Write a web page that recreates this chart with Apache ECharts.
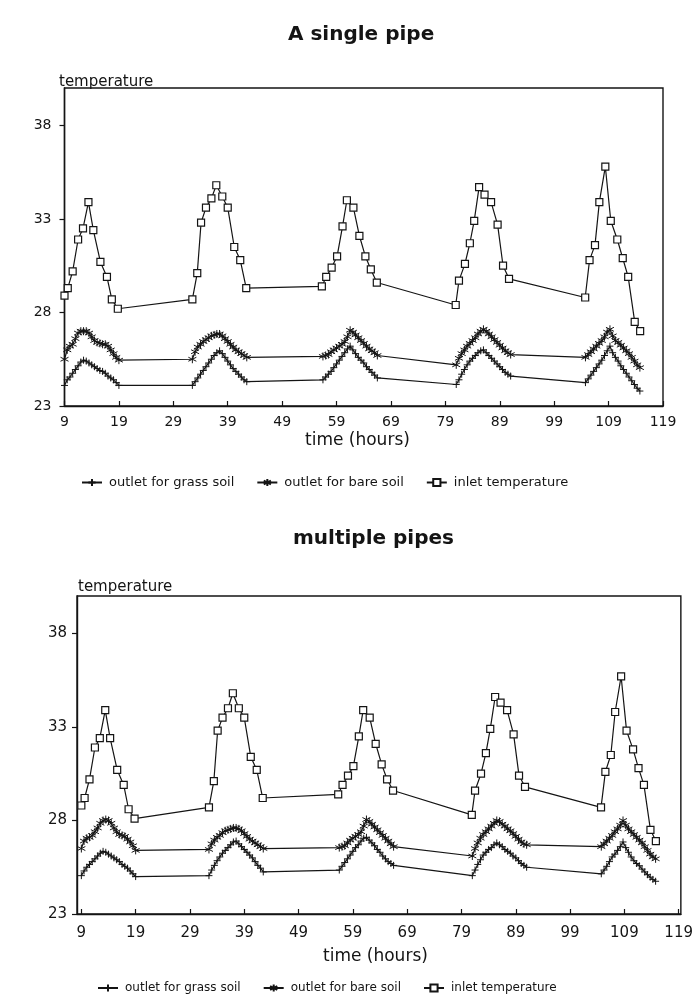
<!DOCTYPE html>
<html><head><meta charset="utf-8">
<script src="https://cdn.jsdelivr.net/npm/echarts@6/dist/echarts.min.js"></script>
<style>html,body{margin:0;padding:0;background:#fff}#c{width:696px;height:1004px}</style>
</head><body><div id="c"></div>
<script>
// ---- data ----
const seriesNames = ['outlet for grass soil', 'outlet for bare soil', 'inlet temperature'];
const chartTitles = ['A single pipe', 'multiple pipes'];
const xAxisTitle = 'time (hours)';
const yAxisTitle = 'temperature';
const xTickValues = [9, 19, 29, 39, 49, 59, 69, 79, 89, 99, 109, 119];

// inlet temperature sampled about hourly (time in hours)
const inletHours = [
  9, 9.6, 10.5, 11.5, 12.4, 13.4, 14.3, 15.6, 16.8, 17.7, 18.8,
  32.5, 33.4, 34.1, 35.0, 36.0, 36.9, 38.0, 39.0, 40.2, 41.3, 42.4,
  56.3, 57.1, 58.1, 59.1, 60.1, 60.9, 62.1, 63.2, 64.3, 65.3, 66.4,
  80.9, 81.5, 82.6, 83.5, 84.3, 85.2, 86.2, 87.4, 88.6, 89.6, 90.7,
  104.7, 105.5, 106.5, 107.3, 108.4, 109.4, 110.6, 111.6, 112.6, 113.8, 114.8
];
// outlet temperatures sampled every half hour
const outletHours = [
  9, 9.5, 10, 10.5, 11, 11.5, 12, 12.5, 13, 13.5, 14, 14.5, 15, 15.5, 16, 16.5, 17, 17.5, 18, 18.5, 19,
  32.5, 33, 33.5, 34, 34.5, 35, 35.5, 36, 36.5, 37, 37.5, 38, 38.5, 39, 39.5, 40, 40.5, 41, 41.5, 42, 42.5,
  56.5, 57, 57.5, 58, 58.5, 59, 59.5, 60, 60.5, 61, 61.5, 62, 62.5, 63, 63.5, 64, 64.5, 65, 65.5, 66, 66.5,
  81, 81.5, 82, 82.5, 83, 83.5, 84, 84.5, 85, 85.5, 86, 86.5, 87, 87.5, 88, 88.5, 89, 89.5, 90, 90.5, 91,
  104.75, 105.25, 105.75, 106.25, 106.75, 107.25, 107.75, 108.25, 108.75, 109.25, 109.75, 110.25, 110.75, 111.25, 111.75, 112.25, 112.75, 113.25, 113.75, 114.25, 114.75
];

// ---- A single pipe ----
const inletSingle = [
  28.9, 29.3, 30.2, 31.9, 32.5, 33.9, 32.4, 30.7, 29.9, 28.7, 28.2,
  28.7, 30.1, 32.8, 33.6, 34.1, 34.8, 34.2, 33.6, 31.5, 30.8, 29.3,
  29.4, 29.9, 30.4, 31.0, 32.6, 34.0, 33.6, 32.1, 31.0, 30.3, 29.6,
  28.4, 29.7, 30.6, 31.7, 32.9, 34.7, 34.3, 33.9, 32.7, 30.5, 29.8,
  28.8, 30.8, 31.6, 33.9, 35.8, 32.9, 31.9, 30.9, 29.9, 27.5, 27.0
];
const bareSingle = [
  25.5, 26.0, 26.2, 26.3, 26.6, 26.9, 27.0, 27.0, 27.0, 26.9, 26.7, 26.5, 26.4, 26.35, 26.3, 26.3, 26.2, 26.0, 25.8, 25.6, 25.45,
  25.5, 25.9, 26.15, 26.3, 26.45, 26.55, 26.65, 26.75, 26.8, 26.85, 26.85, 26.75, 26.6, 26.45, 26.3, 26.15, 26.0, 25.9, 25.8, 25.7, 25.6,
  25.65, 25.7, 25.75, 25.9, 26.0, 26.1, 26.2, 26.3, 26.45, 26.7, 27.05, 26.95, 26.8, 26.65, 26.5, 26.35, 26.2, 26.05, 25.95, 25.85, 25.7,
  25.2, 25.55, 25.8, 26.0, 26.2, 26.35, 26.5, 26.65, 26.85, 27.0, 27.1, 27.0, 26.85, 26.7, 26.55, 26.4, 26.25, 26.1, 25.95, 25.85, 25.75,
  25.6, 25.75, 25.9, 26.05, 26.2, 26.35, 26.5, 26.7, 26.95, 27.1, 26.75, 26.5, 26.4, 26.25, 26.1, 25.95, 25.8, 25.6, 25.4, 25.2, 25.05
];
const grassSingle = [
  24.1, 24.4, 24.55, 24.75, 24.95, 25.15, 25.35, 25.45, 25.4, 25.3, 25.2, 25.1, 25.0, 24.9, 24.85, 24.75, 24.6, 24.5, 24.4, 24.25, 24.1,
  24.1, 24.3, 24.5, 24.7, 24.9, 25.1, 25.3, 25.5, 25.7, 25.85, 25.95, 25.8, 25.6, 25.4, 25.2, 25.0, 24.85, 24.7, 24.55, 24.4, 24.3,
  24.4, 24.55, 24.7, 24.85, 25.05, 25.25, 25.45, 25.65, 25.85, 26.05, 26.2, 26.0, 25.8, 25.6, 25.45, 25.3, 25.1, 24.95, 24.8, 24.65, 24.5,
  24.15, 24.4, 24.7, 24.95, 25.2, 25.4, 25.55, 25.7, 25.85, 25.95, 26.0, 25.85, 25.7, 25.55, 25.4, 25.25, 25.1, 24.95, 24.8, 24.7, 24.6,
  24.25, 24.45, 24.65, 24.85, 25.05, 25.25, 25.45, 25.7, 25.95, 26.2, 25.85, 25.6, 25.4, 25.15, 24.95, 24.75, 24.55, 24.35, 24.15, 23.95, 23.8
];

// ---- multiple pipes ----
const inletMulti = [
  28.8, 29.2, 30.2, 31.9, 32.4, 33.9, 32.4, 30.7, 29.9, 28.6, 28.1,
  28.7, 30.1, 32.8, 33.5, 34.0, 34.8, 34.0, 33.5, 31.4, 30.7, 29.2,
  29.4, 29.9, 30.4, 30.9, 32.5, 33.9, 33.5, 32.1, 31.0, 30.2, 29.6,
  28.3, 29.6, 30.5, 31.6, 32.9, 34.6, 34.3, 33.9, 32.6, 30.4, 29.8,
  28.7, 30.6, 31.5, 33.8, 35.7, 32.8, 31.8, 30.8, 29.9, 27.5, 26.9
];
const bareMulti = [
  26.5, 26.9, 27.05, 27.1, 27.2, 27.4, 27.6, 27.85, 28.0, 28.05, 28.0, 27.85, 27.6, 27.4, 27.25, 27.2, 27.15, 27.0, 26.85, 26.65, 26.4,
  26.45, 26.75, 26.95, 27.1, 27.2, 27.35, 27.45, 27.5, 27.55, 27.6, 27.6, 27.55, 27.45, 27.3, 27.15, 27.0, 26.9, 26.8, 26.7, 26.6, 26.5,
  26.55, 26.6, 26.65, 26.8, 26.95, 27.05, 27.15, 27.25, 27.4, 27.7, 28.05, 27.95, 27.8, 27.65, 27.5, 27.35, 27.2, 27.05, 26.9, 26.75, 26.6,
  26.1, 26.5, 26.8, 27.05, 27.25, 27.4, 27.55, 27.7, 27.85, 28.0, 27.95, 27.8, 27.7, 27.55, 27.45, 27.3, 27.15, 27.0, 26.85, 26.75, 26.7,
  26.6, 26.75, 26.9, 27.05, 27.2, 27.4, 27.55, 27.75, 28.0, 27.75, 27.55, 27.4, 27.25, 27.1, 26.95, 26.8, 26.6, 26.4, 26.2, 26.05, 25.95
];
const grassMulti = [
  25.05, 25.3, 25.5, 25.65, 25.8, 25.95, 26.1, 26.25, 26.35, 26.3, 26.2, 26.1, 26.0, 25.9, 25.8, 25.65, 25.55, 25.45, 25.3, 25.15, 25.0,
  25.05, 25.35, 25.6, 25.85, 26.05, 26.25, 26.4, 26.55, 26.7, 26.85, 26.9, 26.75, 26.6, 26.45, 26.3, 26.15, 26.0, 25.8, 25.6, 25.45, 25.25,
  25.35, 25.55, 25.75, 25.95, 26.15, 26.35, 26.55, 26.7, 26.9, 27.05, 27.1, 26.95, 26.8, 26.65, 26.45, 26.3, 26.1, 25.95, 25.8, 25.7, 25.6,
  25.05, 25.35, 25.65, 25.9, 26.15, 26.3, 26.45, 26.55, 26.7, 26.8, 26.7, 26.6, 26.45, 26.35, 26.25, 26.1, 26.0, 25.85, 25.7, 25.6, 25.5,
  25.15, 25.35, 25.55, 25.8, 26.05, 26.2, 26.4, 26.6, 26.85, 26.55, 26.3, 26.05, 25.85, 25.7, 25.58, 25.4, 25.25, 25.1, 24.97, 24.85, 24.75
];

// ---- drawing ----
const INK = '#141414';
const FONT = 'DejaVu Sans';
const PLUS = 'path://M0,5L10,5M5,0L5,10';
const STAR = 'path://M5,0L5,10M0.7,2.5L9.3,7.5M0.7,7.5L9.3,2.5';

function pairs(xs, ys) { return xs.map((x, i) => [x, ys[i]]); }

function makeSeries(idx, grass, bare, inlet) {
  const common = {
    type: 'line', xAxisIndex: idx, yAxisIndex: idx, showAllSymbol: true,
    lineStyle: { color: INK, width: 1.2 }, emphasis: { disabled: true }, silent: true
  };
  return [
    Object.assign({}, common, {
      name: seriesNames[0], data: pairs(outletHours, grass), symbol: PLUS, symbolSize: 7,
      itemStyle: { color: INK, borderColor: INK, borderWidth: 1 }
    }),
    Object.assign({}, common, {
      name: seriesNames[1], data: pairs(outletHours, bare), symbol: STAR, symbolSize: 8,
      itemStyle: { color: INK, borderColor: INK, borderWidth: 1 }
    }),
    Object.assign({}, common, {
      name: seriesNames[2], data: pairs(inletHours, inlet), symbol: 'rect', symbolSize: 7,
      itemStyle: { color: '#fff', borderColor: INK, borderWidth: 1.2 }
    })
  ];
}

function makeX(idx, min, max, custom, fs, margin) {
  const ax = {
    type: 'value', gridIndex: idx, min: min, max: max,
    axisLine: { show: true, lineStyle: { color: INK, width: 1.4 } },
    axisTick: { show: true, inside: true, length: 5, lineStyle: { color: INK, width: 1.2 } },
    axisLabel: { color: INK, fontFamily: FONT, fontSize: fs, margin: margin },
    splitLine: { show: false }
  };
  if (custom) {
    ax.axisTick.customValues = xTickValues;
    ax.axisLabel.customValues = xTickValues;
  } else {
    ax.interval = 10;
  }
  return ax;
}
function makeY(idx, fs, margin) {
  return {
    type: 'value', gridIndex: idx, min: 23, max: 40, interval: 5,
    axisLine: { show: true, lineStyle: { color: INK, width: 1.4 } },
    axisTick: { show: true, inside: false, length: 5, lineStyle: { color: INK, width: 1.2 } },
    axisLabel: { color: INK, fontFamily: FONT, fontSize: fs, margin: margin, showMaxLabel: false },
    splitLine: { show: false }
  };
}
function legendFor(left, top, fs) {
  return {
    data: seriesNames, left: left, top: top, orient: 'horizontal',
    itemWidth: 20, itemHeight: 9, itemGap: 22, selectedMode: false,
    textStyle: { color: INK, fontFamily: FONT, fontSize: fs, padding: [0, 0, 0, 2] }
  };
}
function label(text, left, top, size, weight) {
  return { text: text, left: left, top: top,
    textStyle: { color: INK, fontFamily: FONT, fontSize: size, fontWeight: weight || 'normal' } };
}

const chart = echarts.init(document.getElementById('c'), null, { renderer: 'canvas' });
chart.setOption({
  animation: false,
  backgroundColor: '#fff',
  title: [
    label(chartTitles[0], 283, 20, 20, 'bold'),
    label(chartTitles[1], 288, 524, 20, 'bold'),
    label(yAxisTitle, 54, 70, 15),
    label(yAxisTitle, 73, 575, 15),
    label(xAxisTitle, 300, 427, 17),
    label(xAxisTitle, 318, 943, 17)
  ],
  legend: [legendFor(76, 471, 13), legendFor(92, 977, 12)],
  grid: [
    { left: 64.5, top: 88, width: 598.5, height: 318, show: true, borderColor: INK, borderWidth: 1.4, backgroundColor: 'transparent' },
    { left: 77, top: 596, width: 607, height: 318, show: true, borderColor: INK, borderWidth: 1.4, backgroundColor: 'transparent' }
  ],
  xAxis: [makeX(0, 9, 119, false, 14, 9), makeX(1, 8.2, 119.4, true, 15, 12)],
  yAxis: [makeY(0, 14, 13), makeY(1, 15, 10)],
  series: makeSeries(0, grassSingle, bareSingle, inletSingle).concat(makeSeries(1, grassMulti, bareMulti, inletMulti))
});
</script>
</body></html>
